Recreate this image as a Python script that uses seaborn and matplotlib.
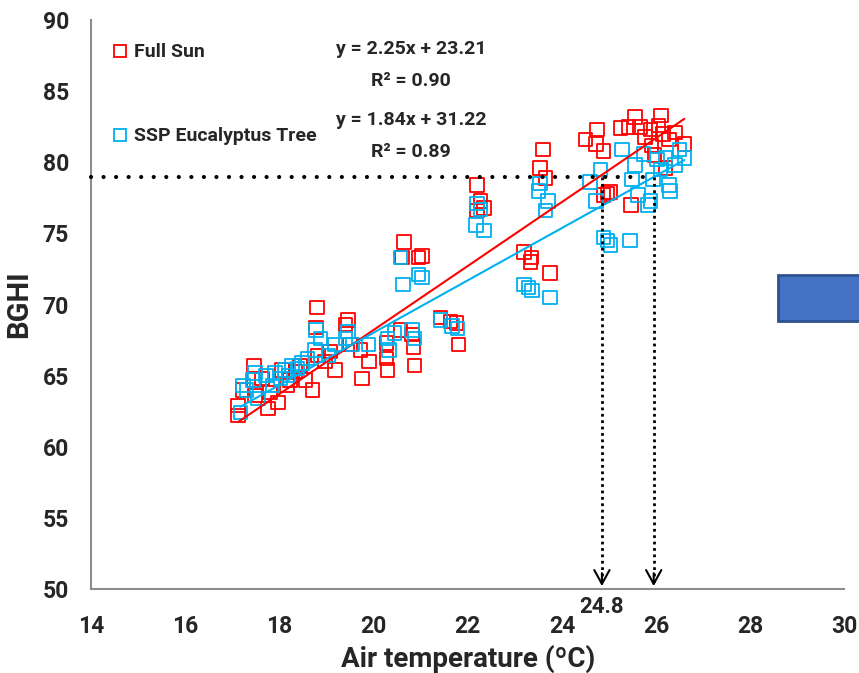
import numpy as np
import pandas as pd
import matplotlib
matplotlib.use("Agg")
import matplotlib.pyplot as plt
from matplotlib.patches import Rectangle
from matplotlib.lines import Line2D
from matplotlib import font_manager
import seaborn as sns

# ---------------- data ----------------
sun_x = [17.12, 17.12, 17.23, 17.46, 17.46, 17.48, 17.63, 17.76, 17.80, 17.97, 18.06, 18.16,
         18.23, 18.34, 18.44, 18.55, 18.70, 18.80, 18.78, 18.82, 18.97, 19.08, 19.18, 19.40,
         19.46, 19.50, 19.72, 19.76, 19.90, 20.27, 20.27, 20.30, 20.57, 20.60, 20.65, 20.82,
         20.85, 20.87, 20.95, 21.03, 21.42, 21.63, 21.76, 21.80, 22.20, 22.20, 22.27, 22.35,
         23.20, 23.33, 23.35, 23.54, 23.60, 23.65, 23.75, 24.50, 24.74, 24.72, 24.88, 24.88,
         24.97, 25.03, 25.24, 25.47, 25.41, 25.55, 25.66, 25.77, 25.88, 25.90, 25.97, 26.05,
         26.10, 26.15, 26.27, 26.40, 26.60, 26.20]
sun_y = [62.2, 62.9, 64.0, 65.7, 64.7, 63.6, 64.8, 62.7, 63.8, 63.1, 65.4, 64.3,
         64.7, 65.3, 65.7, 64.7, 64.0, 69.8, 68.4, 66.4, 66.0, 66.7, 65.4, 68.6,
         68.9, 67.2, 66.8, 64.8, 66.0, 67.3, 66.2, 65.4, 68.2, 73.3, 74.4, 67.9,
         67.0, 65.7, 73.3, 73.4, 69.1, 68.8, 68.7, 67.2, 78.4, 76.6, 77.3, 76.8,
         73.7, 73.0, 73.3, 79.6, 80.9, 78.9, 72.2, 81.6, 82.3, 81.3, 80.8, 77.7,
         77.8, 77.9, 82.4, 77.0, 82.5, 83.2, 82.5, 81.8, 82.3, 81.2, 80.5, 82.6,
         83.3, 82.0, 81.6, 82.1, 81.3, 79.6]

ssp_x = [17.17, 17.23, 17.30, 17.44, 17.48, 17.55, 17.72, 17.85, 17.91, 18.02, 18.12, 18.19,
         18.27, 18.38, 18.48, 18.60, 18.76, 18.78, 18.87, 19.04, 19.18, 19.40, 19.46, 19.55,
         19.89, 20.30, 20.33, 20.44, 20.57, 20.63, 20.82, 20.87, 20.95, 21.03, 21.42, 21.67,
         21.78, 22.18, 22.20, 22.27, 22.35, 23.20, 23.29, 23.37, 23.50, 23.54, 23.65, 23.70,
         23.75, 24.60, 24.72, 24.82, 24.88, 24.97, 25.03, 25.28, 25.45, 25.49, 25.55, 25.62,
         25.73, 25.83, 25.88, 25.94, 26.02, 26.09, 26.20, 26.27, 26.30, 26.40, 26.50, 26.60]
ssp_y = [62.4, 64.3, 64.0, 64.7, 65.2, 63.4, 65.0, 64.3, 65.2, 64.8, 65.4, 65.0,
         65.7, 65.5, 65.9, 66.2, 66.8, 68.2, 67.6, 66.4, 67.2, 67.6, 68.1, 67.2,
         67.2, 67.6, 66.8, 68.0, 73.3, 71.4, 68.2, 67.6, 72.1, 71.9, 68.9, 68.5,
         68.3, 75.6, 77.1, 76.7, 75.2, 71.4, 71.2, 71.0, 78.0, 78.5, 76.6, 77.3,
         70.5, 78.6, 77.3, 79.5, 74.7, 74.5, 74.2, 80.9, 74.5, 78.8, 79.8, 77.7,
         80.6, 77.0, 77.3, 78.8, 80.2, 79.5, 80.3, 78.4, 78.0, 79.8, 80.9, 80.3]

series_names = ["Full Sun", "SSP Eucalyptus Tree"]
slopes = [2.25, 1.84]
intercepts = [23.21, 31.22]
r2_values = [0.90, 0.89]
threshold_y = 79
marked_x = [24.85, 25.95]
marked_label = "24.8"
x_ticks = [14, 16, 18, 20, 22, 24, 26, 28, 30]
y_ticks = [50, 55, 60, 65, 70, 75, 80, 85, 90]

colors = {"Full Sun": "#FF0000", "SSP Eucalyptus Tree": "#00B0F0"}

df = pd.concat([
    pd.DataFrame({"Air temperature": sun_x, "BGHI": sun_y, "Series": series_names[0]}),
    pd.DataFrame({"Air temperature": ssp_x, "BGHI": ssp_y, "Series": series_names[1]}),
], ignore_index=True)

line_rows = []
for name, xs, m, b in zip(series_names, [sun_x, ssp_x], slopes, intercepts):
    for xv in (min(xs), max(xs)):
        line_rows.append({"Air temperature": xv, "BGHI": m * xv + b, "Series": name})
lines_df = pd.DataFrame(line_rows)

# ---------------- plot ----------------
sns.set_style("white")
installed = {f.name for f in font_manager.fontManager.ttflist}
fams = [f for f in ["Liberation Sans Narrow", "Roboto", "Liberation Sans"] if f in installed]
plt.rcParams["font.family"] = fams[:1] + ["DejaVu Sans"]
plt.rcParams["font.weight"] = "bold"

fig = plt.figure(figsize=(8.59, 6.73), dpi=100)
ax = fig.add_axes([0.106, 0.125, 0.877, 0.845])

sns.scatterplot(data=df, x="Air temperature", y="BGHI", hue="Series", palette=colors,
                marker="s", s=95, linewidth=1.3, ax=ax, legend=False)
for coll in ax.collections:
    fc = coll.get_facecolors()
    coll.set_edgecolors(fc)
    coll.set_facecolors("none")

sns.lineplot(data=lines_df, x="Air temperature", y="BGHI", hue="Series", palette=colors,
             linewidth=1.5, ax=ax, legend=False)

ax.plot([14, marked_x[1]], [threshold_y, threshold_y], color="black", lw=3,
        linestyle=(0, (0.01, 3.0)), dash_capstyle="round", clip_on=False, zorder=5)
for xv in marked_x:
    ax.plot([xv, xv], [threshold_y, 50.4], color="black", lw=2,
            linestyle=(0, (1, 1.3)), zorder=5)
    ax.annotate("", xy=(xv, 50.0), xytext=(xv, 51.3),
                arrowprops=dict(arrowstyle="->,head_length=1.0,head_width=0.55",
                                color="black", lw=1.5), zorder=6)
ax.text(marked_x[0], -0.032, marked_label, transform=ax.get_xaxis_transform(),
        ha="center", va="center", fontsize=16, fontweight="bold")

ax.set_xlim(14, 30)
ax.set_ylim(50, 90)
ax.set_xticks(x_ticks)
ax.set_yticks(y_ticks)
ax.tick_params(axis="both", which="major", direction="out", length=7, width=1.2,
               color="#8c8c8c", labelsize=16.5)
ax.tick_params(axis="x", pad=12)
ax.tick_params(axis="y", pad=9)
for lab in ax.get_xticklabels() + ax.get_yticklabels():
    lab.set_fontweight("bold")
for side in ["top", "right"]:
    ax.spines[side].set_visible(False)
for side in ["left", "bottom"]:
    ax.spines[side].set_color("#8c8c8c")
    ax.spines[side].set_linewidth(1.5)

ax.set_xlabel("Air temperature (ºC)", fontsize=20, fontweight="bold", labelpad=5)
ax.set_ylabel("BGHI", fontsize=21, fontweight="bold", labelpad=7)

handles = [Line2D([], [], marker="s", linestyle="none", markersize=8,
                  markerfacecolor="none", markeredgecolor=colors[n], markeredgewidth=1.3)
           for n in series_names]
ax.legend(handles, series_names, loc="upper left", bbox_to_anchor=(0.005, 0.99),
          frameon=False, labelspacing=3.4, handletextpad=0.3, handlelength=0.8,
          prop={"size": 14, "weight": "bold"})

eq_y = [88.0, 83.0]
for m, b, r2, yv in zip(slopes, intercepts, r2_values, eq_y):
    ax.text(20.8, yv, f"y = {m:.2f}x + {b:.2f}", ha="center", va="center",
            fontsize=14, fontweight="bold")
    ax.text(20.8, yv - 2.3, f"R² = {r2:.2f}", ha="center", va="center",
            fontsize=14, fontweight="bold")

fig.patches.append(Rectangle((0.906, 0.523), 0.12, 0.068, transform=fig.transFigure,
                             facecolor="#4472C4", edgecolor="#2F528F", linewidth=2))

fig.savefig("out.png", dpi=100)
